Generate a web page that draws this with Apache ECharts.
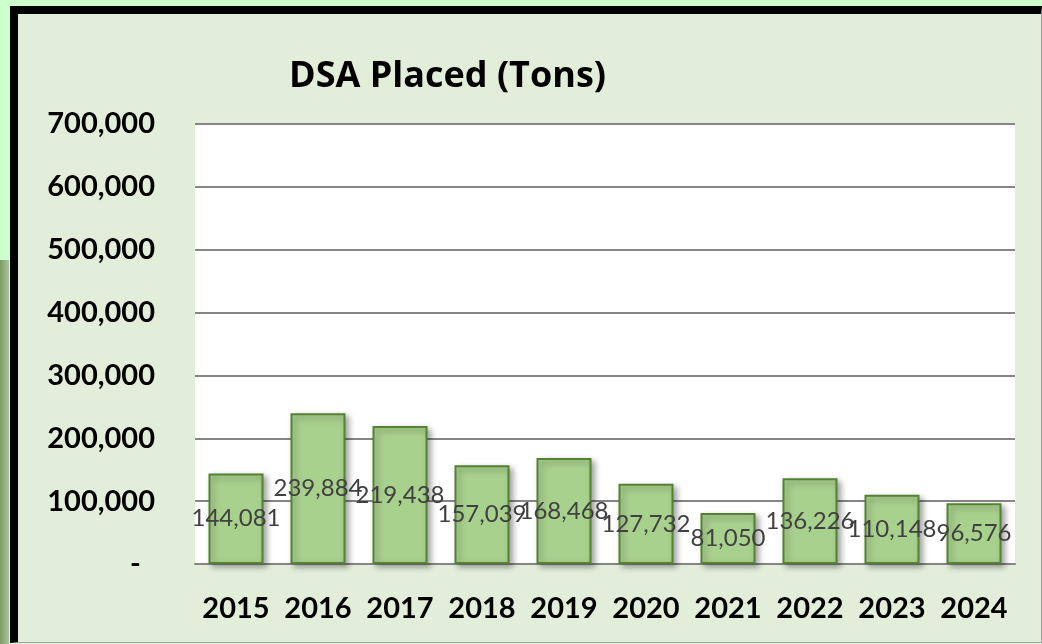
<!DOCTYPE html>
<html>
<head>
<meta charset="utf-8">
<script src="https://cdn.jsdelivr.net/npm/echarts@6/dist/echarts.min.js"></script>
<style>
  html, body { margin: 0; padding: 0; width: 1042px; height: 644px; overflow: hidden; background: #ccffcc; }
  #frame { position: absolute; left: 10px; top: 6px; width: 1023px; height: 628px;
           border-top: 8px solid #000; border-left: 8px solid #000;
           border-right: 1px solid #a0a0a0; border-bottom: 1px solid #a0a0a0; background: #e2eed9; }
  #strip { position: absolute; left: 0; top: 260px; width: 9px; height: 384px; background: linear-gradient(90deg, #7f9a6a, #a7c796); }
  #chart { position: absolute; left: 0; top: 0; width: 1042px; height: 644px; }
</style>
</head>
<body>
<div id="strip"></div>
<div id="frame"></div>
<div id="chart"></div>
<script>
const years = ['2015', '2016', '2017', '2018', '2019', '2020', '2021', '2022', '2023', '2024'];
const tonsPlaced = [144081, 239884, 219438, 157039, 168468, 127732, 81050, 136226, 110148, 96576];
const yTicks = [0, 100000, 200000, 300000, 400000, 500000, 600000, 700000];

const chart = echarts.init(document.getElementById('chart'), null, { renderer: 'canvas' });
const fmt = v => v.toLocaleString('en-US');
chart.setOption({
  backgroundColor: 'transparent',
  animation: false,
  title: {
    text: 'DSA Placed (Tons)',
    left: 284, top: 54,
    textStyle: { fontFamily: 'Open Sans', fontWeight: 'bold', fontSize: 36, color: '#000' }
  },
  grid: { left: 195, right: 27, top: 124, bottom: 80, show: true, backgroundColor: '#ffffff', borderWidth: 0 },
  xAxis: {
    type: 'category', data: years,
    axisTick: { show: false },
    axisLine: { lineStyle: { color: '#868686', width: 2 } },
    axisLabel: { interval: 0, fontFamily: 'Lato', fontWeight: 'bold', fontSize: 29, color: '#000', margin: 30 }
  },
  yAxis: {
    type: 'value', min: yTicks[0], max: yTicks[yTicks.length - 1], interval: yTicks[1] - yTicks[0],
    axisLine: { show: false }, axisTick: { show: false },
    splitLine: { lineStyle: { color: '#868686', width: 2 } },
    axisLabel: { fontFamily: 'Lato', fontWeight: 'bold', fontSize: 29, color: '#000', margin: 40,
      formatter: v => v === 0 ? '-  ' : fmt(v) }
  },
  series: [{
    type: 'bar', data: tonsPlaced, barWidth: 55,
    itemStyle: { color: '#a9d18e', borderColor: '#548235', borderWidth: 2,
      shadowColor: 'rgba(0,0,0,0.35)', shadowBlur: 6, shadowOffsetX: 3, shadowOffsetY: 3 },
    label: { show: true, position: 'inside', formatter: p => fmt(p.value),
      fontFamily: 'Lato', fontSize: 24, color: '#404040' }
  }]
});
</script>
</body>
</html>
